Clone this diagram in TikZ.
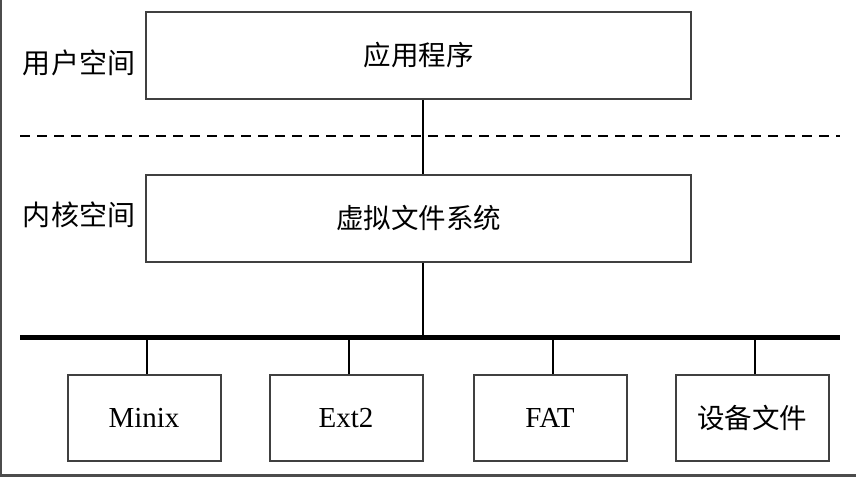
\documentclass[tikz,border=0pt]{standalone}
\usepackage{fontspec}
\setmainfont{Liberation Serif}
\newfontfamily\cjk{Noto Sans CJK SC}
\usepackage{tikz}
\usetikzlibrary{calc}

\begin{document}
\begin{tikzpicture}[x=1pt,y=-1pt,
		layer/.style={draw=black!75,line width=2pt,minimum width=545pt,minimum height=87pt,font=\fontsize{27.5}{28}\cjk},
		fsbox/.style={draw=black!75,line width=2pt,minimum width=153pt,minimum height=86pt,font=\fontsize{29}{29}\selectfont},
		space/.style={font=\fontsize{28}{28}\cjk},
		link/.style={line width=1.6pt}]
		\useasboundingbox (0,0) rectangle (856,477);
		\draw[black!70,line width=2.5pt] (1,0) -- (1,475.5) -- (856,475.5);
		\node[layer] (app) at (418.5,55.5) {应用程序};
		\node[layer] (vfs) at (418.5,218) {虚拟文件系统};
		\node[space] (user) at (79,63) {用户空间};
		\node[space] (kernel) at (79,215) {内核空间};
		\coordinate (dashL) at (20,136);
		\coordinate (dashR) at (840,136);
		\coordinate (busL) at (20,337);
		\coordinate (busR) at (840,337);
		\node[fsbox] (minix) at (144,418) {Minix};
		\node[fsbox] (ext) at (346,418) {Ext2};
		\node[fsbox] (fat) at (550,418) {FAT};
		\node[fsbox,font=\fontsize{27.5}{28}\cjk] (dev) at (752,418) {设备文件};
		\draw[line width=1.6pt,dash pattern=on 10pt off 7pt] (dashL) -- (dashR);
		\draw[line width=5pt] (busL) -- (busR);
		\draw[link] ([xshift=4.5pt]app.south) -- ([xshift=4.5pt]vfs.north);
		\draw[link] ([xshift=4.5pt]vfs.south) -- ([xshift=4.5pt]vfs.south |- busL);
		\foreach \fs in {minix,ext,fat,dev}
			\draw[link] ([xshift=3pt]\fs.north) -- ([xshift=3pt]\fs.north |- busL);
		\end{tikzpicture}
\end{document}
